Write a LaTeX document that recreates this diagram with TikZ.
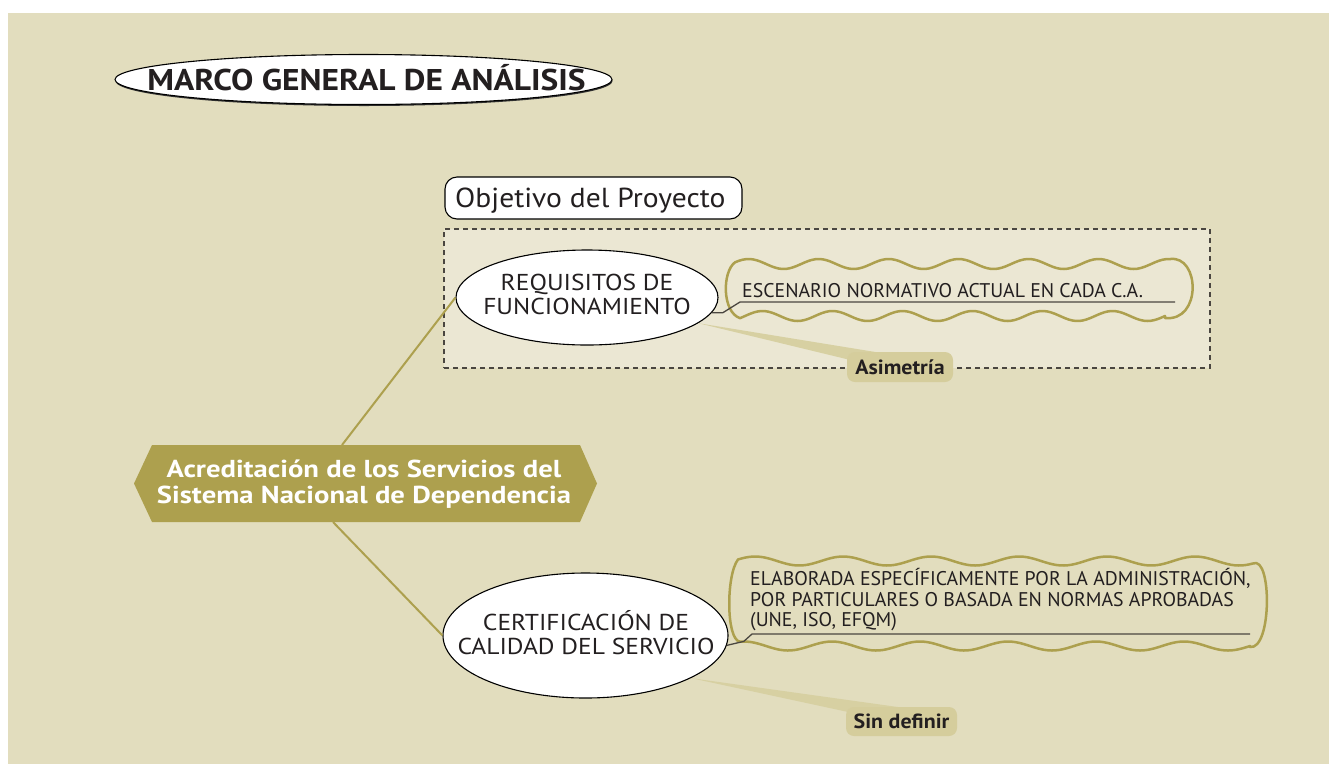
\documentclass[tikz,border=0pt]{standalone}
\usepackage{fontspec}
\usepackage{graphicx}
\setmainfont{PT Sans}
\usetikzlibrary{shapes.geometric,calc}
\definecolor{bgc}{HTML}{E2DDBE}
\definecolor{panelc}{HTML}{EBE7D3}
\definecolor{olv}{HTML}{ADA04E}
\definecolor{tagc}{HTML}{D5CD9C}
\definecolor{tailc}{HTML}{D7D0A2}
\definecolor{ink}{HTML}{231F20}
\definecolor{leadc}{HTML}{4A4640}
\newcommand\hstretch[2]{\scalebox{#1}[1]{#2}}
\begin{document}
\begin{tikzpicture}[x=1pt,y=-1pt,
  bubble/.style={ellipse, draw=black, line width=1.1pt, fill=white, inner sep=0pt},
  txt/.style={text=ink, inner sep=0pt, align=center},
  tagbox/.style={fill=tagc, rounded corners=8pt, inner sep=0pt, text=ink, font=\bfseries\fontsize{20.5}{20.5}\selectfont},
  linkln/.style={draw=olv, line width=2pt},
  leadln/.style={draw=leadc, line width=1.3pt},
  wavybox/.style={draw=olv, line width=2.5pt, line join=round},
  tailfill/.style={fill=tailc}
]
\useasboundingbox (0,0) rectangle (1329,764);
\fill[white] (0,0) rectangle (1329,764);
\fill[bgc] (8,13) rectangle (1329,764);

% title
\node[ellipse, fill=black!80, minimum width=497pt, minimum height=50pt, inner sep=0pt] (titleshadow) at (364,81) {};
\node[bubble, minimum width=497pt, minimum height=50pt] (title) at (363.5,79.5) {};
\node[txt, anchor=base, font=\bfseries\fontsize{30}{30}\selectfont] (titlet) at (366.5,90) {\hstretch{1.115}{MARCO GENERAL DE ANÁLISIS}};

% objective tab
\node[draw=black, line width=1.1pt, fill=white, rounded corners=12pt, minimum width=297pt, minimum height=42pt, inner sep=0pt] (obj) at (593.5,198) {};
\node[txt, anchor=base west, font=\fontsize{27.5}{27.5}\selectfont] (objt) at (455,207) {\hstretch{1.075}{Objetivo del Proyecto}};

% dashed frame
\node[draw=leadc, line width=1.3pt, dash pattern=on 5pt off 4pt, fill=panelc, minimum width=766pt, minimum height=139pt, inner sep=0pt] (frame) at (827,298.5) {};

% central hexagon
\fill[olv] (134,483.5) -- (152,445) -- (580,445) -- (597,483.5) -- (580,522) -- (152,522) -- cycle;
\coordinate (hexN) at (342,445);
\coordinate (hexS) at (333,522);
\node[txt, text=white, font=\bfseries\fontsize{24.5}{26.5}\selectfont] (hex) at (364,484) {\hstretch{1.17}{Acreditación de los Servicios del}\\\hstretch{1.17}{Sistema Nacional de Dependencia}};

% ellipses
\node[bubble, minimum width=262pt, minimum height=95pt] (e1) at (587,297.5) {};
\node[txt, font=\fontsize{23}{23.3}\selectfont] (e1t) at (587,294.5) {\hstretch{1.11}{REQUISITOS DE}\\\hstretch{1.11}{FUNCIONAMIENTO}};
\node[bubble, minimum width=285pt, minimum height=125pt] (e2) at (585.5,635.5) {};
\node[txt, font=\fontsize{23}{23.3}\selectfont] (e2t) at (586,632.5) {\hstretch{1.11}{CERTIFICACIÓN DE}\\\hstretch{1.11}{CALIDAD DEL SERVICIO}};

% olive connectors
\draw[linkln] (hexN) -- (e1.west);
\draw[linkln] (hexS) -- (e2.west);

% tails to tags
\coordinate (asimC) at (900,367);
\coordinate (sinC) at (901.5,721.5);
\fill[tailfill] (e1.-13) -- ($(asimC)+(0,-11)$) -- ($(asimC)+(0,5)$) -- cycle;
\fill[tailfill] (e2.-22) -- ($(sinC)+(0,-14)$) -- ($(sinC)+(0,2)$) -- cycle;
\node[tagbox, minimum width=106pt, minimum height=30pt] (asim) at (asimC) {\hstretch{1.07}{Asimetría}};
\node[tagbox, minimum width=111pt, minimum height=29pt] (sin) at (sinC) {\hstretch{1.07}{Sin definir}};

% wavy box 1
\draw[wavybox] plot[domain=0:435, samples=120] ({735+\x}, {264+5*sin(\x/70*360+200)})
  .. controls (1200,255) and (1202,322) .. (1165,318)
  -- plot[domain=0:425, samples=120] ({1165-\x}, {316+5*sin(\x/70*360)})
  .. controls (722,312) and (722,272) .. cycle;
% wavy box 2
\draw[wavybox] plot[domain=0:515, samples=140] ({738+\x}, {561+4.5*sin(\x/88*360+200)})
  .. controls (1272,555) and (1272,650) .. (1250,647)
  -- plot[domain=0:510, samples=140] ({1250-\x}, {646+4.5*sin(\x/88*360)})
  .. controls (726,640) and (726,575) .. cycle;

% leader lines and texts
\coordinate (u1s) at (740,302);
\coordinate (u1e) at (1175,302);
\draw[leadln] (e1.-7) -- ++(11,0) -- (u1s) -- (u1e);
\node[txt, anchor=base west, font=\fontsize{19.8}{20.5}\selectfont] (b1t) at (742,297.5) {ESCENARIO NORMATIVO ACTUAL EN CADA C.A.};

\coordinate (u2s) at (752,634);
\coordinate (u2e) at (1250,634);
\draw[leadln] (e2.-4) -- ++(17,-4) -- (u2s) -- (u2e);
\node[txt, align=left, anchor=west, font=\fontsize{19.8}{20.5}\selectfont] (b2t) at (750,600) {ELABORADA ESPECÍFICAMENTE POR LA ADMINISTRACIÓN,\\POR PARTICULARES O BASADA EN NORMAS APROBADAS\\(UNE, ISO, EFQM)};
\end{tikzpicture}
\end{document}
